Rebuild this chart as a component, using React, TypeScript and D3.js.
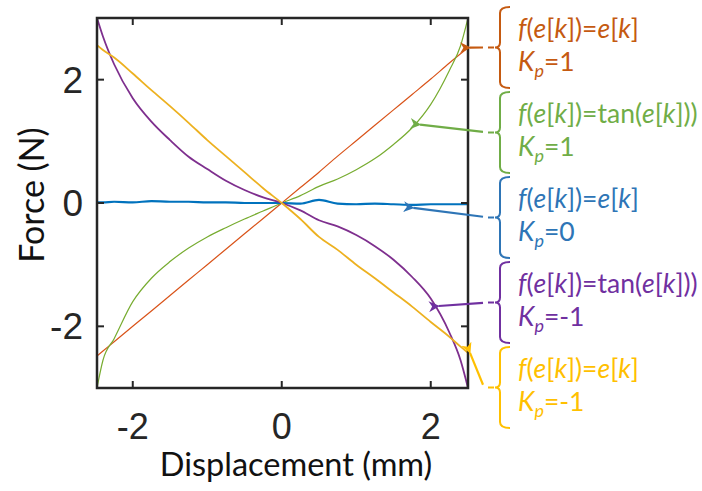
import React, { useEffect, useRef } from "react";
import * as d3 from "d3";

// displacement samples (mm)
const xs = [-2.48, -2.4, -2.25, -2, -1.75, -1.5, -1.25, -1, -0.75, -0.5, -0.25, 0, 0.25, 0.5, 0.75, 1, 1.25, 1.5, 1.75, 2, 2.25, 2.4, 2.5];

// force (N) for each controller setting
const orangeF = [-2.48, -2.4, -2.25, -2.0, -1.75, -1.5, -1.25, -1.0, -0.75, -0.5, -0.25, 0, 0.25, 0.5, 0.76, 1.01, 1.26, 1.51, 1.76, 2.01, 2.27, 2.42, 2.52];
const greenF = [-3.0, -2.55, -2.2, -1.6, -1.22, -0.95, -0.73, -0.55, -0.4, -0.26, -0.13, 0, 0.12, 0.27, 0.39, 0.54, 0.72, 0.95, 1.22, 1.6, 2.15, 2.55, 3.0];
const blueF = [0.01, 0.01, 0.02, 0.01, 0.03, 0.02, 0.02, 0.01, 0.01, 0.0, 0.0, 0.0, -0.01, 0.05, -0.01, -0.02, -0.01, -0.02, -0.03, -0.02, -0.02, -0.02, -0.02];
const purpleF = [3.0, 2.7, 2.25, 1.7, 1.32, 1.02, 0.75, 0.55, 0.36, 0.21, 0.09, 0, -0.12, -0.28, -0.38, -0.52, -0.7, -0.92, -1.2, -1.55, -2.1, -2.55, -3.0];
const yellowF = [2.56, 2.48, 2.36, 2.1, 1.83, 1.57, 1.3, 1.02, 0.76, 0.5, 0.24, 0, -0.26, -0.55, -0.76, -1.0, -1.22, -1.45, -1.68, -1.93, -2.17, -2.33, -2.43];

const xTicks = [-2, 0, 2];
const yTicks = [-2, 0, 2];

// legend: function, gain, colour of line, colour of label, point the arrow hits
const labelFunc = ["e", "tan", "e", "tan", "e"];
const labelKp = ["1", "1", "0", "-1", "-1"];
const lineColors = ["#D95319", "#77AC30", "#0072BD", "#7E2F8E", "#EDB120"];
const textColors = ["#C55A11", "#70AD47", "#2E75B6", "#7030A0", "#FFC000"];
const arrowAt: [number, number][] = [[2.5, 2.52], [1.83, 1.27], [1.74, -0.08], [2.08, -1.67], [2.5, -2.43]];

const series = [orangeF, greenF, blueF, purpleF, yellowF];
const widths = [1.2, 1.2, 2.2, 1.8, 1.8];

export default function App() {
  const ref = useRef<SVGSVGElement>(null);

  useEffect(() => {
    const svg = d3.select(ref.current);
    svg.selectAll("*").remove();

    const left = 97, right = 468, top = 18, bottom = 388;
    const x = d3.scaleLinear().domain([-2.48, 2.5]).range([left, right]);
    const y = d3.scaleLinear().domain([-3, 3]).range([bottom, top]);

    svg.append("defs").append("clipPath").attr("id", "plot")
      .append("rect").attr("x", left).attr("y", top).attr("width", right - left).attr("height", bottom - top);

    const line = d3.line<number>().x((d, i) => x(xs[i])).y((d) => y(d)).curve(d3.curveMonotoneX);
    // draw order: orange, green, blue, purple, yellow (yellow on top)
    series.forEach((s, i) => {
      svg.append("path").datum(s).attr("d", line).attr("fill", "none")
        .attr("stroke", lineColors[i]).attr("stroke-width", widths[i])
        .attr("clip-path", "url(#plot)");
    });

    // frame
    const ink = "#262626";
    svg.append("rect").attr("x", left).attr("y", top).attr("width", right - left).attr("height", bottom - top)
      .attr("fill", "none").attr("stroke", ink).attr("stroke-width", 2.5);

    const tl = 7;
    xTicks.forEach((t) => {
      svg.append("line").attr("x1", x(t)).attr("x2", x(t)).attr("y1", bottom).attr("y2", bottom - tl).attr("stroke", ink).attr("stroke-width", 2);
      svg.append("line").attr("x1", x(t)).attr("x2", x(t)).attr("y1", top).attr("y2", top + tl).attr("stroke", ink).attr("stroke-width", 2);
      svg.append("text").attr("x", x(t)).attr("y", 439).attr("text-anchor", "middle")
        .attr("font-family", "'Liberation Sans', Arial, sans-serif").attr("font-size", 36).attr("fill", ink)
        .text(t < 0 ? "-" + Math.abs(t) : String(t));
    });
    yTicks.forEach((t) => {
      svg.append("line").attr("x1", left).attr("x2", left + tl).attr("y1", y(t)).attr("y2", y(t)).attr("stroke", ink).attr("stroke-width", 2);
      svg.append("line").attr("x1", right).attr("x2", right - tl).attr("y1", y(t)).attr("y2", y(t)).attr("stroke", ink).attr("stroke-width", 2);
      svg.append("text").attr("x", 83).attr("y", y(t) + 13).attr("text-anchor", "end")
        .attr("font-family", "'Liberation Sans', Arial, sans-serif").attr("font-size", 37).attr("fill", ink)
        .text(t < 0 ? "-" + Math.abs(t) : String(t));
    });

    const labelFont = "Lato, 'Open Sans', sans-serif";
    svg.append("text").attr("x", 296).attr("y", 476).attr("text-anchor", "middle")
      .attr("font-family", labelFont).attr("font-size", 32.5).attr("fill", "#111").text("Displacement (mm)");
    svg.append("text").attr("transform", "translate(44,195) rotate(-90)").attr("text-anchor", "middle")
      .attr("font-family", labelFont).attr("font-size", 34).attr("fill", "#111").text("Force (N)");

    // annotations
    const braceTop = [7, 92, 177, 262, 347];
    const braceH = 81;
    const bx = 500;
    svg.append("defs").selectAll("marker").data(textColors).join("marker")
      .attr("id", (d, i) => "arr" + i).attr("viewBox", "0 0 10 10").attr("refX", 1).attr("refY", 5)
      .attr("markerWidth", 5).attr("markerHeight", 5).attr("orient", "auto-start-reverse")
      .append("path").attr("d", "M0,5 L10,0 L7,5 L10,10 Z").attr("fill", (d) => d);

    braceTop.forEach((t, i) => {
      const c = textColors[i];
      const b = t + braceH;
      const m = (t + b) / 2;
      svg.append("path")
        .attr("d", `M${bx + 10},${t} Q${bx},${t} ${bx},${t + 6} L${bx},${m - 5} Q${bx},${m} ${bx - 5},${m} Q${bx},${m} ${bx},${m + 5} L${bx},${b - 6} Q${bx},${b} ${bx + 10},${b}`)
        .attr("fill", "none").attr("stroke", c).attr("stroke-width", 2);
      svg.append("line").attr("x1", bx - 6).attr("x2", bx - 12).attr("y1", m).attr("y2", m).attr("stroke", c).attr("stroke-width", 2);
      const [ax, ay] = arrowAt[i];
      svg.append("line").attr("x1", x(ax) + 2).attr("y1", y(ay)).attr("x2", bx - 17).attr("y2", m - (m - y(ay)) * 0.08)
        .attr("stroke", c).attr("stroke-width", 2.2).attr("marker-start", `url(#arr${i})`);

      const tx = 518;
      const t1 = svg.append("text").attr("x", tx).attr("y", t + 31).attr("font-family", labelFont)
        .attr("font-size", 26.5).attr("fill", c);
      const it = (s: string) => t1.append("tspan").attr("font-style", "italic").text(s);
      const up = (s: string) => t1.append("tspan").text(s);
      it("f"); up("("); it("e"); up("["); it("k"); up("])=");
      if (labelFunc[i] === "tan") { up("tan("); it("e"); up("["); it("k"); up("]))"); }
      else { it("e"); up("["); it("k"); up("]"); }

      const t2 = svg.append("text").attr("x", tx).attr("y", t + 64).attr("font-family", labelFont)
        .attr("font-size", 26.5).attr("fill", c);
      t2.append("tspan").attr("font-style", "italic").text("K");
      t2.append("tspan").attr("font-style", "italic").attr("font-size", 18).attr("dy", 6).text("p");
      t2.append("tspan").attr("dy", -6).text("=" + labelKp[i]);
    });
  }, []);

  return (
    <svg ref={ref} width={702} height={491}
      style={{ position: "absolute", left: 0, top: 0, background: "#fff" }} />
  );
}
